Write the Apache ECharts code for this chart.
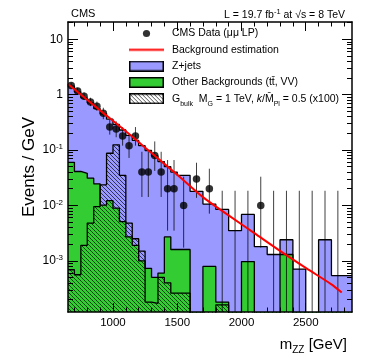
<!DOCTYPE html>
<html>
<head>
<meta charset="utf-8">
<script src="https://cdn.jsdelivr.net/npm/echarts@6/dist/echarts.min.js"></script>
<style>
  html, body { margin: 0; padding: 0; background: #fff; }
  #chart { width: 374px; height: 359px; }
</style>
</head>
<body>
<div id="chart"></div>
<script>
// bin edges (GeV): 50 GeV bins up to 1500, then 100 GeV bins, last bin runs to the frame
const binEdges = [650, 700, 750, 800, 850, 900, 950, 1000, 1050, 1100, 1150, 1200, 1250, 1300, 1350, 1400, 1450, 1500,
  1600, 1700, 1800, 1900, 2000, 2100, 2200, 2300, 2400, 2500, 2600, 2700, 2860];

// events / GeV per bin
const zjets = [1.36, 1.08, 0.84, 0.68, 0.535, 0.44, 0.348, 0.281, 0.225, 0.182, 0.148, 0.119, 0.0973, 0.0775, 0.0614, 0.0473, 0.0384,
  0.0334, 0.018, 0.0098, 0.0083, 0.0035, 0.0059, 0.0018, 0.0013, 0.0011, 0.00071, 0, 0.0024, 0.00054];
const otherBkg = [0.060, 0.041, 0.038, 0.031, 0.0245, 0.0101, 0.0122, 0.0089, 0.0051, 0.0027, 0.0019, 0.0010, 0.00073, 0.0005, 0.0006, 0.0027, 0.0016,
  0.0016, 0, 0.00079, 0.00018, 0, 0.00097, 0, 0, 0.0013, 0, 0, 0, 0];
const signal = [0.00069, 0.00056, 0.0019, 0.0048, 0.0095, 0.0235, 0.0875, 0.124, 0.035, 0.0048, 0.0025, 0.0015, 0.00018, 0.00017, 0.0005, 0.0004, 0.00026,
  0.00026, 0, 0, 0.00016, 0, 0, 0, 0, 0, 0, 0, 0, 0];

// data points (bin centres), with error bar ends
const dataMass = [675, 725, 775, 825, 875, 925, 975, 1025, 1075, 1125, 1175, 1225, 1275, 1325, 1375, 1425, 1475,
  1550, 1650, 1750, 1850, 1950, 2050, 2150, 2250, 2350, 2450, 2550, 2650, 2750];
const dataVal = [1.46, 1.16, 0.94, 0.74, 0.62, 0.46, 0.26, 0.24, 0.18, 0.12, 0.18, 0.04, 0.04, 0.08, 0.04, 0.02, 0.02,
  0.01, 0.03, 0.02, 0, 0, 0, 0.01, 0, 0, 0, 0, 0, 0];
const dataLo = [1.29, 1.01, 0.80, 0.62, 0.51, 0.36, 0.19, 0.17, 0.12, 0.072, 0.12, 0.0142, 0.0142, 0.042, 0.0142, 0.0035, 0.0035,
  0.00173, 0.0137, 0.0071, 0, 0, 0, 0.00173, 0, 0, 0, 0, 0, 0];
const dataHi = [1.65, 1.33, 1.10, 0.88, 0.75, 0.58, 0.35, 0.33, 0.26, 0.19, 0.26, 0.093, 0.093, 0.143, 0.093, 0.066, 0.066,
  0.033, 0.059, 0.046, 0.0184, 0.0184, 0.0184, 0.033, 0.0184, 0.0184, 0.0184, 0.0184, 0.0184, 0.0184];

// background estimation curve
const fitMass = [650, 900, 1100, 1300, 1500, 1700, 1900, 2100, 2300, 2500, 2700, 2780];
const fitVal = [1.56, 0.52, 0.218, 0.0883, 0.0358, 0.0141, 0.0066, 0.00316, 0.00151, 0.000744, 0.000375, 0.000267];

// axes
const xMin = 650, xMax = 2860;
const yMin = 1.19e-4, yMax = 20.5;
const xMajor = [1000, 1500, 2000, 2500];
const yMajor = [0.001, 0.01, 0.1, 1, 10];

const FONT = "'Liberation Sans', Arial, Helvetica, sans-serif";
const NAME_DATA = 'CMS Data (μμ LP)';
const NAME_FIT = 'Background estimation';
const NAME_Z = 'Z+jets';
const NAME_OTHER = 'Other Backgrounds';
const NAME_SIG = 'Gbulk';

const xMinor = [];
for (let m = 700; m <= 2800; m += 100) if (m % 500) xMinor.push(m);
const yMinor = [];
for (let e = -4; e <= 1; e++) {
  for (let k = 2; k <= 9; k++) {
    const v = k * Math.pow(10, e);
    if (v >= yMin && v <= yMax) yMinor.push(v);
  }
}

// hatch pattern for the signal
const hatch = document.createElement('canvas');
hatch.width = 4; hatch.height = 4;
(function () {
  const c = hatch.getContext('2d');
  c.strokeStyle = 'rgba(0,0,0,0.75)';
  c.lineWidth = 0.9;
  c.beginPath();
  c.moveTo(-1, -1); c.lineTo(5, 5);
  c.moveTo(-1, 3); c.lineTo(1, 5);
  c.moveTo(3, -1); c.lineTo(5, 1);
  c.stroke();
})();

function makeIcon(draw) {
  const c = document.createElement('canvas');
  c.width = 35; c.height = 11;
  draw(c.getContext('2d'));
  return 'image://' + c.toDataURL();
}
function boxIcon(fill) {
  return makeIcon(ctx => {
    ctx.fillStyle = fill;
    ctx.fillRect(0, 0, 35, 11);
    ctx.strokeStyle = '#000';
    ctx.lineWidth = 1.5;
    ctx.strokeRect(0.75, 0.75, 33.5, 9.5);
  });
}
const iconDot = makeIcon(ctx => { ctx.fillStyle = '#000'; ctx.beginPath(); ctx.arc(17.5, 5.5, 3.6, 0, Math.PI * 2); ctx.fill(); });
const iconLine = makeIcon(ctx => { ctx.fillStyle = '#ff0000'; ctx.fillRect(0, 4.5, 35, 2); });
const iconZ = boxIcon('#9999ff');
const iconOther = boxIcon('#33cc33');
const iconSig = makeIcon(ctx => {
  ctx.fillStyle = '#fff';
  ctx.fillRect(0, 0, 35, 11);
  ctx.fillStyle = ctx.createPattern(hatch, 'repeat');
  ctx.fillRect(0, 0, 35, 11);
  ctx.strokeStyle = '#000';
  ctx.lineWidth = 1.5;
  ctx.strokeRect(0.75, 0.75, 33.5, 9.5);
});

const legendText = {};
legendText[NAME_DATA] = 'CMS Data (μμ LP)';
legendText[NAME_FIT] = 'Background estimation';
legendText[NAME_Z] = 'Z+jets';
legendText[NAME_OTHER] = 'Other Backgrounds (tt̄, VV)';
legendText[NAME_SIG] = 'G{sub|bulk}  M{sub|G} = 1 TeV, {it|k}/M̄{sub|Pl} = 0.5 (x100)';

// histogram as step line: value held from each edge to the next; zero bins go below the frame
const low = v => (v > 0 ? v : 1e-9);
function stepData(vals) {
  return binEdges.map((e, i) => [e, low(vals[Math.min(i, vals.length - 1)])]);
}
const totalTop = zjets.map((v, i) => v + otherBkg[i]);

function histSeries(name, vals, fill, z) {
  return {
    name: name, type: 'line', step: 'end', symbol: 'none', silent: true, z: z,
    data: stepData(vals),
    lineStyle: { color: '#000', width: 1.3 },
    itemStyle: { color: '#000' },
    areaStyle: { color: fill, opacity: 1, origin: 'start' }
  };
}

const chart = echarts.init(document.getElementById('chart'), null, { renderer: 'canvas' });

const axisLineStyle = { show: true, lineStyle: { color: '#000', width: 1.5 } };
const tickLine = { color: '#000', width: 1 };

chart.setOption({
  animation: false,
  backgroundColor: '#fff',
  textStyle: { fontFamily: FONT },
  grid: { left: 68, right: 22, top: 22, bottom: 47, containLabel: false },
  title: [
    { text: 'CMS', left: 66, top: 3, textStyle: { fontFamily: FONT, fontSize: 11, fontWeight: 'normal', color: '#000' } },
    {
      text: 'L = 19.7 fb{sup|-1} at √s = 8 TeV', right: 24, top: 3,
      textStyle: {
        fontFamily: FONT, fontSize: 10.5, fontWeight: 'normal', color: '#000', lineHeight: 14,
        rich: { sup: { fontFamily: FONT, fontSize: 7.5, lineHeight: 9, verticalAlign: 'top', color: '#000' } }
      }
    },
    {
      text: 'm{sub|ZZ} [GeV]', right: 22, top: 330,
      textStyle: {
        fontFamily: FONT, fontSize: 15, fontWeight: 'normal', color: '#000', lineHeight: 20,
        rich: { sub: { fontFamily: FONT, fontSize: 10, lineHeight: 10, verticalAlign: 'bottom', color: '#000' } }
      }
    }
  ],
  legend: {
    left: 129, top: 28, padding: 0, orient: 'vertical', selectedMode: false,
    itemWidth: 35, itemHeight: 11, itemGap: 5.3,
    data: [
      { name: NAME_DATA, icon: iconDot },
      { name: NAME_FIT, icon: iconLine },
      { name: NAME_Z, icon: iconZ },
      { name: NAME_OTHER, icon: iconOther },
      { name: NAME_SIG, icon: iconSig }
    ],
    formatter: name => legendText[name],
    textStyle: {
      fontFamily: FONT, fontSize: 10.5, color: '#000', lineHeight: 11, padding: [0, 0, 0, 3],
      rich: {
        sub: { fontFamily: FONT, fontSize: 7, lineHeight: 11, verticalAlign: 'bottom', padding: [0, 0, -3, 0], color: '#000' },
        it: { fontFamily: FONT, fontSize: 10.5, fontStyle: 'italic', lineHeight: 11, color: '#000' }
      }
    }
  },
  xAxis: [
    {
      type: 'value', position: 'bottom', min: xMin, max: xMax, z: 10,
      axisLine: axisLineStyle,
      axisTick: { show: true, inside: true, length: 9, customValues: xMajor, lineStyle: tickLine },
      axisLabel: { customValues: xMajor, color: '#000', fontSize: 11.5, margin: 5, fontFamily: FONT, formatter: v => String(v) },
      splitLine: { show: false }
    },
    {
      type: 'value', position: 'bottom', min: xMin, max: xMax, z: 10,
      axisLine: { show: false },
      axisTick: { show: true, inside: true, length: 4.5, customValues: xMinor, lineStyle: tickLine },
      axisLabel: { show: false }, splitLine: { show: false }
    },
    {
      type: 'value', position: 'top', min: xMin, max: xMax, z: 10,
      axisLine: axisLineStyle,
      axisTick: { show: true, inside: true, length: 9, customValues: xMajor, lineStyle: tickLine },
      axisLabel: { show: false }, splitLine: { show: false }
    },
    {
      type: 'value', position: 'top', min: xMin, max: xMax, z: 10,
      axisLine: { show: false },
      axisTick: { show: true, inside: true, length: 4.5, customValues: xMinor, lineStyle: tickLine },
      axisLabel: { show: false }, splitLine: { show: false }
    }
  ],
  yAxis: [
    {
      type: 'log', logBase: 10, position: 'left', min: yMin, max: yMax, z: 10,
      name: 'Events / GeV', nameLocation: 'middle', nameGap: 30, nameMoveOverlap: false,
      nameTextStyle: { fontFamily: FONT, fontSize: 17, color: '#000' },
      axisLine: axisLineStyle,
      axisTick: { show: true, inside: true, length: 10, customValues: yMajor, lineStyle: tickLine },
      axisLabel: {
        customValues: yMajor, color: '#000', fontSize: 12, margin: 5, fontFamily: FONT, lineHeight: 14,
        formatter: v => {
          const e = Math.round(Math.log10(v));
          return e === 0 ? '1' : e === 1 ? '10' : '10{sup|' + e + '}';
        },
        rich: { sup: { fontFamily: FONT, fontSize: 8, lineHeight: 8, verticalAlign: 'top', color: '#000' } }
      },
      splitLine: { show: false }
    },
    {
      type: 'log', logBase: 10, position: 'left', min: yMin, max: yMax, z: 10,
      axisLine: { show: false },
      axisTick: { show: true, inside: true, length: 5, customValues: yMinor, lineStyle: tickLine },
      axisLabel: { show: false }, splitLine: { show: false }
    },
    {
      type: 'log', logBase: 10, position: 'right', min: yMin, max: yMax, z: 10,
      axisLine: axisLineStyle,
      axisTick: { show: true, inside: true, length: 10, customValues: yMajor, lineStyle: tickLine },
      axisLabel: { show: false }, splitLine: { show: false }
    },
    {
      type: 'log', logBase: 10, position: 'right', min: yMin, max: yMax, z: 10,
      axisLine: { show: false },
      axisTick: { show: true, inside: true, length: 5, customValues: yMinor, lineStyle: tickLine },
      axisLabel: { show: false }, splitLine: { show: false }
    }
  ],
  series: [
    histSeries(NAME_Z, totalTop, '#9999ff', 2),
    histSeries(NAME_OTHER, otherBkg, '#33cc33', 3),
    histSeries(NAME_SIG, signal, { image: hatch, repeat: 'repeat' }, 4),
    {
      name: 'errors', type: 'custom', silent: true, z: 5,
      data: dataMass.map((m, i) => [m, dataLo[i], dataHi[i]]),
      encode: { x: 0, y: 2 },
      renderItem: (params, api) => {
        const x = api.value(0);
        const top = api.coord([x, api.value(2)]);
        const bot = api.coord([x, Math.max(api.value(1), yMin)]);
        return {
          type: 'line',
          shape: { x1: top[0], y1: top[1], x2: bot[0], y2: bot[1] },
          style: { stroke: 'rgba(0,0,0,0.75)', lineWidth: 1 }
        };
      }
    },
    {
      name: NAME_DATA, type: 'scatter', symbol: 'circle', symbolSize: 7.5, z: 6, silent: true,
      itemStyle: { color: '#000' },
      data: dataMass.map((m, i) => [m, dataVal[i]]).filter(d => d[1] > 0)
    },
    {
      name: NAME_FIT, type: 'line', smooth: 0.3, symbol: 'none', z: 7, silent: true,
      lineStyle: { color: '#ff0000', width: 2 },
      itemStyle: { color: '#ff0000' },
      data: fitMass.map((m, i) => [m, fitVal[i]])
    }
  ]
});
</script>
</body>
</html>
